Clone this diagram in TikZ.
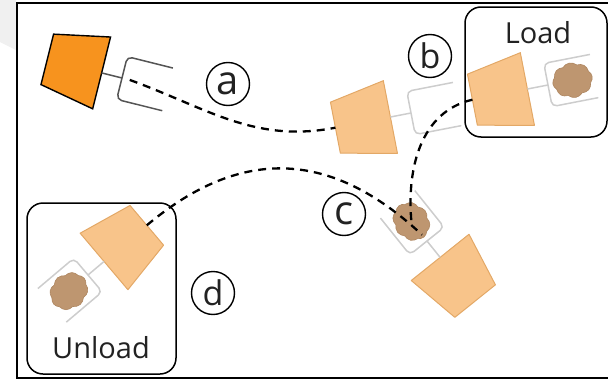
\documentclass[tikz,border=0pt]{standalone}
\usepackage{fontspec}
\setmainfont{Open Sans}
\usetikzlibrary{shapes.symbols}

\definecolor{botdark}{HTML}{F7931E}
\definecolor{botlight}{HTML}{F8C48A}
\definecolor{botedge}{HTML}{E3A866}
\definecolor{clay}{HTML}{BE9670}
\definecolor{clayedge}{HTML}{AE8660}
\definecolor{gripgray}{HTML}{CDCDCD}
\definecolor{gripdark}{HTML}{555555}
\definecolor{inkgray}{HTML}{222222}

\tikzset{
  botbody/.style={fill=botlight, draw=botedge, line width=1pt, line join=round},
  botgrip/.style={draw=gripgray, line width=1.5pt, rounded corners=5pt},
  botstem/.style={draw=gripgray, line width=1.5pt},
  claylump/.style={cloud, cloud puffs=8, cloud puff arc=100, aspect=1.15,
    minimum width=40pt, minimum height=35pt, inner sep=0pt,
    fill=clay, draw=clayedge, line width=0.6pt},
  route/.style={draw=black, line width=2.3pt, dash pattern=on 8pt off 6pt},
  zonebox/.style={draw=black, line width=1.5pt, rounded corners=16pt, inner sep=0pt},
  caption/.style={font=\fontsize{29}{29}\selectfont, text=inkgray, inner sep=0pt},
  tag/.style={circle, draw=black, line width=1.4pt, minimum size=43pt, inner sep=0pt,
    font=\fontsize{34}{34}\selectfont, text=inkgray},
  lowtag/.style={tag, font=\fontsize{40}{40}\selectfont},
  % a gripper robot: body behind, open gripper pointing along +x
  pics/robot/.style={code={
    \path[botbody] (-77,-26) -- (-21,-37) -- (-21,37) -- (-77,26) -- cycle;
    \path[botstem] (-21,0) -- (0,0);
    \path[botgrip] (47,-22) -- (0,-22) -- (0,22) -- (47,22);
    \coordinate (-back) at (-77,0);
    \coordinate (-inner) at (8,0);
    \coordinate (-hold) at (25,0);
  }}
}

\begin{document}
\begin{tikzpicture}[x=1pt, y=-1pt]
\useasboundingbox (0,0) rectangle (608,380);

% faint backdrop at the top left
\fill[black!6] (0,0) -- (16,0) -- (16,50) -- (0,42) -- cycle;

% frame
\draw[line width=2pt] (608,3) -- (17,3) -- (17,378) -- (608,378);

% zones
\node[zonebox, minimum width=142pt, minimum height=130pt] (loadzone) at (536,72) {};
\node[zonebox, minimum width=149pt, minimum height=171pt] (unloadzone) at (101.5,288.5) {};
\node[caption, anchor=base] (loadtext) at (538,43) {Load};
\node[caption, anchor=base] (unloadtext) at (101,358) {Unload};

% robots
\pic[rotate=-14,
     botbody/.style={fill=botdark, draw=black, line width=1.4pt},
     botgrip/.append style={draw=gripdark},
     botstem/.append style={draw=gripdark}] (startbot) at (122,78) {robot};
\pic[rotate=11] (midbot) at (411,113) {robot};
\pic[rotate=11] (loadbot) at (548,85) {robot};
\pic[rotate=128.7] (pickbot) at (427,241) {robot};
\pic[rotate=-139.8] (unloadbot) at (88,275) {robot};

% carried loads
\node[claylump, rotate=11] (loadclay) at (loadbot-hold) {};
\node[claylump, rotate=128.7] (pickclay) at (pickbot-hold) {};
\node[claylump, rotate=-139.8] (unloadclay) at (unloadbot-hold) {};

% routes
\draw[route] (startbot-inner) to[out=-20, in=191] (midbot-back);
\draw[route] (loadbot-back) to[out=193, in=95] (pickclay.center);
\draw[route] (unloadbot-back) to[out=40, in=137, looseness=1.15] (pickbot-inner);

% step tags
\node[lowtag] (taga) at (228,84) {a};
\node[tag] (tagb) at (430,56) {b};
\node[lowtag] (tagc) at (344,214) {c};
\node[tag] (tagd) at (213,293) {d};
\end{tikzpicture}
\end{document}
